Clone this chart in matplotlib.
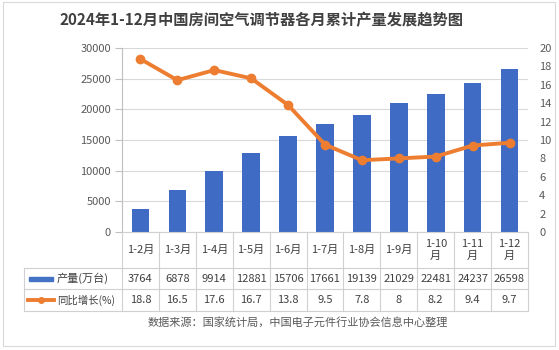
import matplotlib
matplotlib.use("Agg")
import matplotlib.pyplot as plt
import numpy as np
from matplotlib.patches import Rectangle
from matplotlib.lines import Line2D

plt.rcParams['font.family'] = ['Noto Sans CJK SC', 'DejaVu Sans']

categories = ["1-2月", "1-3月", "1-4月", "1-5月", "1-6月", "1-7月", "1-8月", "1-9月", "1-10\n月", "1-11\n月", "1-12\n月"]
production = [3764, 6878, 9914, 12881, 15706, 17661, 19139, 21029, 22481, 24237, 26598]
growth = [18.8, 16.5, 17.6, 16.7, 13.8, 9.5, 7.8, 8, 8.2, 9.4, 9.7]
growth_labels = ["18.8", "16.5", "17.6", "16.7", "13.8", "9.5", "7.8", "8", "8.2", "9.4", "9.7"]
series_names = ["产量(万台)", "同比增长(%)"]
title = "2024年1-12月中国房间空气调节器各月累计产量发展趋势图"
source = "数据来源：国家统计局，中国电子元件行业协会信息中心整理"

W, H = 559, 350
fig = plt.figure(figsize=(W/100, H/100), dpi=100)
fig.patch.set_facecolor("white")

def fx(px): return px / W
def fy(py): return 1 - py / H

# plot area
L, R, T, B = 122, 528, 48, 232
ax = fig.add_axes([fx(L), fy(B), fx(R) - fx(L), fy(T) - fy(B)])
n = len(categories)
x = np.arange(n)
blue = "#4472C4"
orange = "#ED7D31"
ax.bar(x, production, width=0.48, color="#3F6BC4", edgecolor="none", zorder=2)
ax.set_xlim(-0.5, n - 0.5)
ax.set_ylim(0, 30000)
ax.set_yticks(np.arange(0, 30001, 5000))
ax.tick_params(axis='y', length=5, color="#BFBFBF", labelsize=8, labelcolor="#595959", pad=3)
ax.set_xticks([])
for s in ["top", "right", "bottom"]:
    ax.spines[s].set_visible(False)
ax.spines["left"].set_color("#BFBFBF")
ax.grid(axis='y', color="#D9D9D9", linewidth=0.8, zorder=0)
ax.set_axisbelow(True)

ax2 = ax.twinx()
ax2.plot(x, growth, color=orange, linewidth=2.8, marker='o', markersize=6, zorder=3)
ax2.set_ylim(0, 20)
ax2.set_yticks(np.arange(0, 21, 2))
ax2.tick_params(axis='y', length=0, labelsize=8, labelcolor="#595959", pad=8)
for s in ["top", "right", "bottom", "left"]:
    ax2.spines[s].set_visible(False)

# table
tl = 24
rows_y = [232, 268, 289, 311]
cw = (R - L) / n
lc = "#D0D0D0"
lines = []
# horizontal lines
lines.append(((L, R), (232, 232)))
for yy in rows_y[1:]:
    lines.append(((tl, R), (yy, yy)))
# vertical lines
for i in range(n + 1):
    xx = L + i * cw
    lines.append(((xx, xx), (232, 311)))
lines.append(((tl, tl), (268, 311)))
for (xs, ys) in lines:
    fig.add_artist(Line2D([fx(xs[0]), fx(xs[1])], [fy(ys[0]), fy(ys[1])], color=lc, linewidth=0.8))

tc = "#404040"
for i, c in enumerate(categories):
    cx = L + (i + 0.5) * cw
    fig.text(fx(cx), fy((232 + 268) / 2), c, ha='center', va='center', fontsize=8, color=tc, linespacing=1.2)
    fig.text(fx(cx), fy((268 + 289) / 2), str(production[i]), ha='center', va='center', fontsize=8, color=tc)
    fig.text(fx(cx), fy((289 + 311) / 2), growth_labels[i], ha='center', va='center', fontsize=8, color=tc)

# legend keys
fig.add_artist(Rectangle((fx(29), fy(280.5)), fx(53) - fx(29), fy(277) - fy(280.5), color=blue))
fig.add_artist(Line2D([fx(28), fx(54)], [fy(300), fy(300)], color=orange, linewidth=2.8))
fig.add_artist(Line2D([fx(41)], [fy(300)], color=orange, marker='o', markersize=4))
fig.text(fx(57), fy(278.5), series_names[0], ha='left', va='center', fontsize=8, color=tc)
fig.text(fx(57), fy(300), series_names[1], ha='left', va='center', fontsize=7.5, color=tc)

fig.text(fx(298), fy(322), source, ha='center', va='center', fontsize=8, color="#595959")
fig.text(fx(262), fy(20), title, ha='center', va='center', fontsize=11, fontweight='bold', color="#404040")

# outer border
fig.add_artist(Rectangle((fx(3), fy(346)), fx(555) - fx(3), fy(2) - fy(346), fill=False, edgecolor="#D9D9D9", linewidth=0.8))

fig.savefig("out.png", dpi=100)
